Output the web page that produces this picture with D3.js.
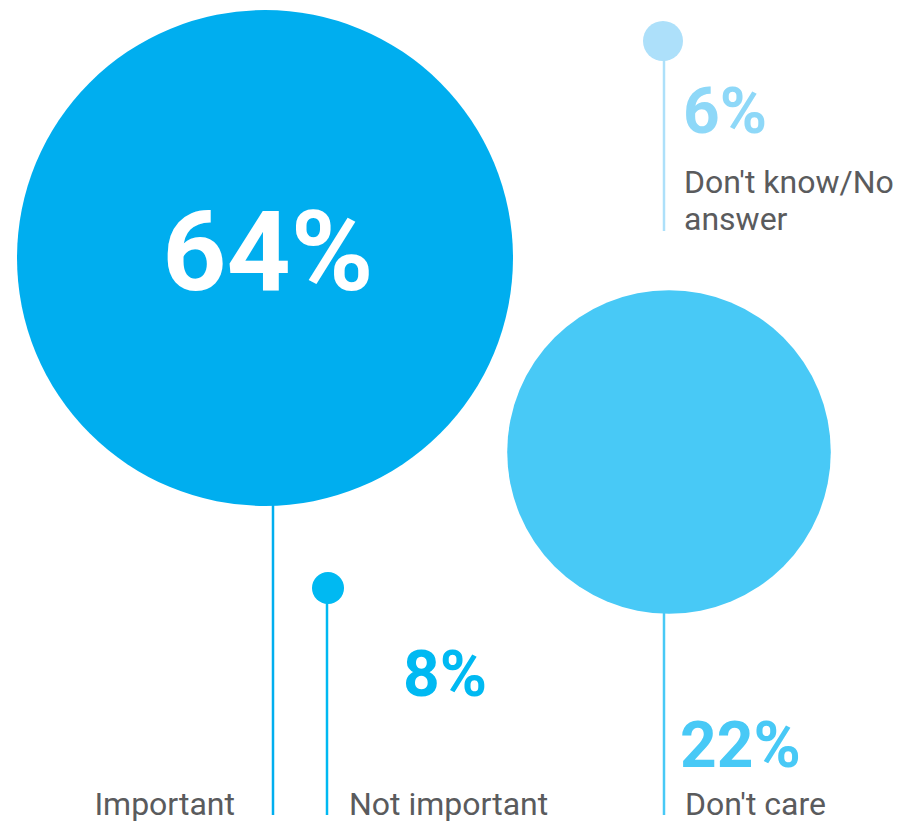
<!DOCTYPE html>
<html>
<head>
<meta charset="utf-8">
<script src="https://cdn.jsdelivr.net/npm/d3@7"></script>
<style>
  html, body { margin: 0; padding: 0; background: #ffffff; }
  svg { display: block; font-family: Roboto, "Noto Sans", sans-serif; }
</style>
</head>
<body>
<svg id="chart" width="922" height="824"></svg>
<script>
// ---- data ----
const categories = ["Important", "Not important", "Don't care", "Don't know/No answer"];
const values = [64, 8, 22, 6];
const valueLabels = ["64%", "8%", "22%", "6%"];
const nameLines = [["Important"], ["Not important"], ["Don't care"], ["Don't know/No", "answer"]];

// ---- layout / style (not data) ----
const colors = ["#00AEEF", "#00B9F2", "#48C9F6", "#ADE0FA"];
const valueColors = ["#FFFFFF", "#00B9F2", "#48C9F6", "#8ED8F8"];
const markerKind = ["bubble", "dot", "bubble", "dot"];
const dotRadius = [0, 16, 0, 20];
const layout = [
  { cx: 265, cy: 258, stemX: 273, stemEnd: 815, valX: 268, valY: 290, valAnchor: "middle", valSize: 112, nameX: 235, nameY: 815, nameAnchor: "end" },
  { cx: 328, cy: 588, stemX: 327, stemEnd: 815, valX: 403, valY: 696, valAnchor: "start", valSize: 64, nameX: 349, nameY: 815, nameAnchor: "start" },
  { cx: 669, cy: 452, stemX: 664, stemEnd: 815, valX: 680, valY: 767, valAnchor: "start", valSize: 64, nameX: 685, nameY: 815, nameAnchor: "start" },
  { cx: 663, cy: 41,  stemX: 664, stemEnd: 231, valX: 683, valY: 133, valAnchor: "start", valSize: 64, nameX: 684, nameY: 193, nameAnchor: "start" }
];

const svg = d3.select("#chart");

// bubble radius from value via power scale
const rScale = d3.scalePow().exponent(0.4).domain([0, d3.max(values)]).range([0, 248]);

const items = categories.map((c, i) => ({
  name: c, value: values[i], label: valueLabels[i], lines: nameLines[i],
  color: colors[i], vColor: valueColors[i], kind: markerKind[i], L: layout[i],
  r: markerKind[i] === "bubble" ? rScale(values[i]) : dotRadius[i]
}));

const g = svg.append("g");

// stems
g.selectAll("line.stem").data(items).join("line")
  .attr("class", "stem")
  .attr("x1", d => d.L.stemX).attr("x2", d => d.L.stemX)
  .attr("y1", d => d.kind === "bubble" ? d.L.cy + d.r - 2 : d.L.cy)
  .attr("y2", d => d.L.stemEnd)
  .attr("stroke", d => d.color)
  .attr("stroke-width", 2.5);

// circles
g.selectAll("circle.mark").data(items).join("circle")
  .attr("class", "mark")
  .attr("cx", d => d.L.cx).attr("cy", d => d.L.cy).attr("r", d => d.r)
  .attr("fill", d => d.color);

// value labels
g.selectAll("text.val").data(items).join("text")
  .attr("class", "val")
  .attr("x", d => d.L.valX).attr("y", d => d.L.valY)
  .attr("text-anchor", d => d.L.valAnchor)
  .attr("font-size", d => d.L.valSize)
  .attr("font-weight", 700)
  .attr("fill", d => d.vColor)
  .text(d => d.label);

// name labels
const names = g.selectAll("text.name").data(items).join("text")
  .attr("class", "name")
  .attr("x", d => d.L.nameX).attr("y", d => d.L.nameY)
  .attr("text-anchor", d => d.L.nameAnchor)
  .attr("font-size", 32)
  .attr("fill", "#5A5B5D");
names.selectAll("tspan").data(d => d.lines.map((t, j) => ({ t, j, x: d.L.nameX }))).join("tspan")
  .attr("x", d => d.x)
  .attr("dy", d => d.j === 0 ? 0 : 37)
  .text(d => d.t);
</script>
</body>
</html>
